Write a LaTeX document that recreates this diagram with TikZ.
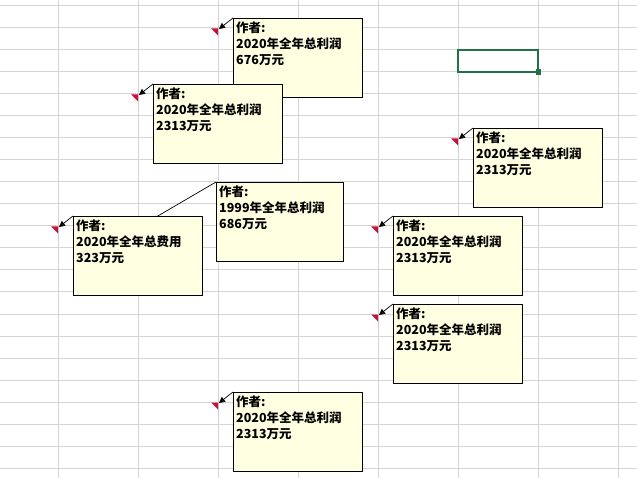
\documentclass[tikz,border=0pt]{standalone}
\usepackage{fontspec}
\newfontfamily\cjk{Noto Sans CJK SC}
\usetikzlibrary{arrows.meta,calc}
\definecolor{gridgray}{RGB}{212,212,212}
\definecolor{cmtyellow}{RGB}{255,255,225}
\definecolor{flagred}{RGB}{196,20,60}
\definecolor{selgreen}{RGB}{33,115,70}
\tikzset{
  gridline/.style={draw=gridgray, line width=1pt},
  cbox/.style={draw=black, fill=cmtyellow, line width=0.9pt, minimum width=129pt, minimum height=79pt, anchor=north west, inner sep=0pt, outer sep=0pt},
  ctext/.style={anchor=north west, align=left, inner sep=0pt, font=\cjk\bfseries\fontsize{12.5}{16}\selectfont},
  lead/.style={draw=black, line width=0.7pt, -{Triangle[length=6pt,width=6pt]}},
  flag/.style={fill=flagred},
}
\newcommand\flagat[1]{\fill[flag] ($(#1)+(-7,0.5)$) -- ($(#1)+(0,0.5)$) -- ($(#1)+(0,7.5)$) -- cycle;}
\begin{document}
\begin{tikzpicture}[x=1pt,y=-1pt]
\useasboundingbox (0,0) rectangle (637,478);
\fill[white] (0,0) rectangle (637,478);
% grid
\foreach \yy in {6,28,...,468} \draw[gridline] (0,\yy) -- (637,\yy);
\foreach \xx in {58,138,...,618} \draw[gridline] (\xx,0) -- (\xx,478);
% selected cell
\draw[selgreen, line width=2pt] (458,50) rectangle (538,72);
\fill[selgreen] (535.5,69.5) rectangle (541,75);
% cell corners
\coordinate (c1) at (218,28);
\coordinate (c2) at (138,94);
\coordinate (c3) at (458,138);
\coordinate (c4) at (58,226);
\coordinate (c5) at (138,226);
\coordinate (c6) at (378,226);
\coordinate (c7) at (378,314);
\coordinate (c8) at (218,402);
\foreach \c in {c1,c2,c3,c4,c5,c6,c7,c8} {\flagat{\c}}
% comment 1
\node[cbox] (b1) at (233,18) {};
\draw[lead] (b1.north west) -- ($(c1)+(1,1)$);
\node[ctext] (t1) at ($(b1.north west)+(3,4)$) {作者:\\2020年全年总利润\\676万元};
% comment 2
\node[cbox] (b2) at (153,84) {};
\draw[lead] (b2.north west) -- ($(c2)+(1,1)$);
\node[ctext] (t2) at ($(b2.north west)+(3,4)$) {作者:\\2020年全年总利润\\2313万元};
% comment 3
\node[cbox] (b3) at (473,128) {};
\draw[lead] (b3.north west) -- ($(c3)+(1,1)$);
\node[ctext] (t3) at ($(b3.north west)+(3,4)$) {作者:\\2020年全年总利润\\2313万元};
% comment 5 (behind 4)
\node[cbox, minimum width=127pt] (b5) at (216,182) {};
\draw[lead] (b5.north west) -- ($(c5)+(1,1)$);
\node[ctext] (t5) at ($(b5.north west)+(3,4)$) {作者:\\1999年全年总利润\\686万元};
% comment 4
\node[cbox] (b4) at (73,216) {};
\draw[lead] (b4.north west) -- ($(c4)+(1,1)$);
\node[ctext] (t4) at ($(b4.north west)+(3,4)$) {作者:\\2020年全年总费用\\323万元};
% comment 6
\node[cbox] (b6) at (393,216) {};
\draw[lead] (b6.north west) -- ($(c6)+(1,1)$);
\node[ctext] (t6) at ($(b6.north west)+(3,4)$) {作者:\\2020年全年总利润\\2313万元};
% comment 7
\node[cbox] (b7) at (393,304) {};
\draw[lead] (b7.north west) -- ($(c7)+(1,1)$);
\node[ctext] (t7) at ($(b7.north west)+(3,4)$) {作者:\\2020年全年总利润\\2313万元};
% comment 8
\node[cbox] (b8) at (233,392) {};
\draw[lead] (b8.north west) -- ($(c8)+(1,1)$);
\node[ctext] (t8) at ($(b8.north west)+(3,4)$) {作者:\\2020年全年总利润\\2313万元};
\end{tikzpicture}
\end{document}
